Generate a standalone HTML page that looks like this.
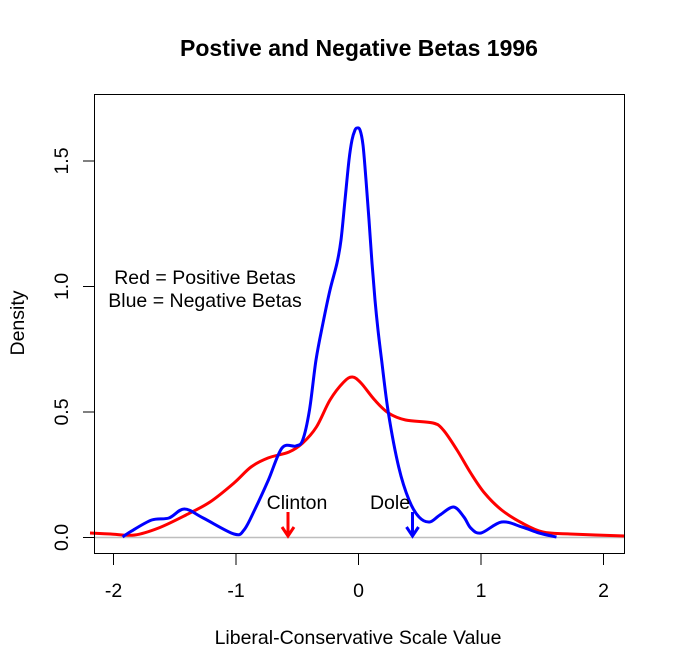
<!DOCTYPE html>
<html><head><style>body{margin:0;background:#fff}svg{display:block}text{font-family:"Liberation Sans",Arial,sans-serif}</style></head>
<body>
<svg width="673" height="672" viewBox="0 0 673 672">
<rect width="673" height="672" fill="#fff"/>
<text x="359" y="56" font-size="23" font-weight="bold" text-anchor="middle">Postive and Negative Betas 1996</text>
<line x1="94.5" y1="537.5" x2="625" y2="537.5" stroke="#bebebe" stroke-width="1.5"/>
<path id="red" fill="none" stroke="#f00" stroke-width="3" stroke-linejoin="round" d=""/>
<path id="blue" fill="none" stroke="#00f" stroke-width="3" stroke-linejoin="round" d=""/>
<line x1="288" y1="512" x2="288" y2="535" stroke="#f00" stroke-width="3"/>
<polyline points="282,527 288,536 294,527" fill="none" stroke="#f00" stroke-width="3"/>
<line x1="412.5" y1="512" x2="412.5" y2="535" stroke="#00f" stroke-width="3"/>
<polyline points="406.5,527 412.5,536 418.5,527" fill="none" stroke="#00f" stroke-width="3"/>
<g font-size="19.5" text-anchor="middle">
<text x="297" y="509">Clinton</text>
<text x="390" y="509">Dole</text>
<text x="205" y="284">Red = Positive Betas</text>
<text x="205" y="307">Blue = Negative Betas</text>
</g>
<rect x="94.5" y="94.5" width="530" height="459" fill="none" stroke="#000" stroke-width="1"/>
<g stroke="#000" stroke-width="1">
<line x1="113.5" y1="554" x2="113.5" y2="565"/>
<line x1="236" y1="554" x2="236" y2="565"/>
<line x1="358.5" y1="554" x2="358.5" y2="565"/>
<line x1="481" y1="554" x2="481" y2="565"/>
<line x1="603.5" y1="554" x2="603.5" y2="565"/>
<line x1="83" y1="537.5" x2="94" y2="537.5"/>
<line x1="83" y1="412" x2="94" y2="412"/>
<line x1="83" y1="286.5" x2="94" y2="286.5"/>
<line x1="83" y1="161" x2="94" y2="161"/>
</g>
<g font-size="19.5" text-anchor="middle">
<text x="113.5" y="597">-2</text>
<text x="236" y="597">-1</text>
<text x="358.5" y="597">0</text>
<text x="481" y="597">1</text>
<text x="603.5" y="597">2</text>
<text transform="translate(68,537.5) rotate(-90)">0.0</text>
<text transform="translate(68,412) rotate(-90)">0.5</text>
<text transform="translate(68,286.5) rotate(-90)">1.0</text>
<text transform="translate(68,161) rotate(-90)">1.5</text>
<text x="358" y="644">Liberal-Conservative Scale Value</text>
<text transform="translate(24,323) rotate(-90)">Density</text>
</g>
</svg>
<script>
function sm(p){var d="M"+p[0][0]+","+p[0][1];for(var i=0;i<p.length-1;i++){var a=p[i-1]||p[i],b=p[i],c=p[i+1],e=p[i+2]||c;d+=" C"+(b[0]+(c[0]-a[0])/6)+","+(b[1]+(c[1]-a[1])/6)+" "+(c[0]-(e[0]-b[0])/6)+","+(c[1]-(e[1]-b[1])/6)+" "+c[0]+","+c[1];}return d;}
var R=[[90,533],[110.6,534],[134.6,535],[158.6,528],[186,515],[210,502],[234,483],[251,467],[268,458],[289,452],[302.7,443],[316.4,427],[330,400],[343.8,382],[352.4,377],[361,383],[374.7,400],[388.4,413],[405.6,420],[433,423],[443.3,430],[457,450],[470.7,473],[484.5,493],[501.6,510],[522,523],[542.8,532],[570,534],[625,536]];
var B=[[122.6,537],[130,532],[151.7,520],[168.9,518],[184.3,509],[203.2,518],[234,534],[244,530],[254.6,510],[268.4,480],[282,448],[295.8,446],[302.7,440],[309.5,410],[316,360],[323,323],[330,290],[337,263],[341,240],[345,200],[349,160],[352,140],[355,130],[357,128],[360,130],[363,145],[366,180],[369,220],[372,263],[375,300],[378,330],[381.6,360],[388.4,413],[398.7,467],[409,500],[419,517],[429.6,522],[439.9,515],[453.6,507],[463.9,517],[470.7,528],[481,533],[501.6,522],[522,527],[539,533],[556.5,537]];
document.getElementById("red").setAttribute("d",sm(R));
document.getElementById("blue").setAttribute("d",sm(B));
</script>
</body></html>
